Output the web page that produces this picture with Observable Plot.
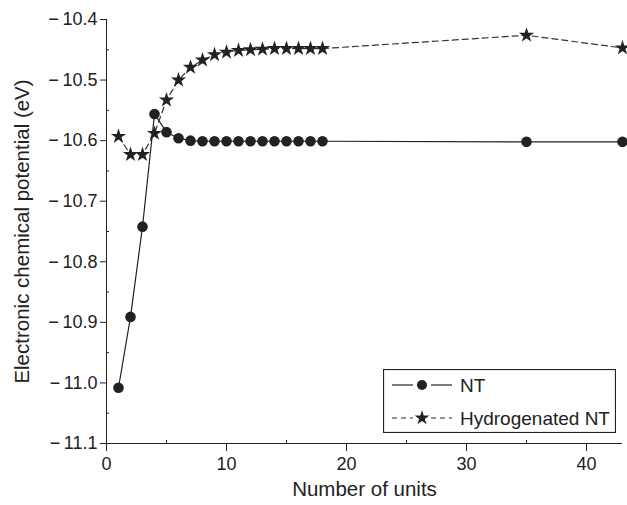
<!DOCTYPE html>
<html><head><meta charset="utf-8">
<script src="https://cdn.jsdelivr.net/npm/d3@7"></script>
<script src="https://cdn.jsdelivr.net/npm/@observablehq/plot@0.6"></script>
<style>
body{margin:0;background:#fff;font-family:"Liberation Sans",Arial,sans-serif}
#wrap{position:relative;width:627px;height:505px}
#legend{position:absolute;left:383px;top:369px}
</style></head><body>
<div id="wrap"><div id="chart"></div><div id="legend"></div></div>
<script>
const units = [1,2,3,4,5,6,7,8,9,10,11,12,13,14,15,16,17,18,35,43];
const nt = [-11.008,-10.891,-10.742,-10.556,-10.586,-10.596,-10.600,-10.601,-10.601,-10.601,-10.601,-10.601,-10.601,-10.601,-10.601,-10.601,-10.601,-10.601,-10.602,-10.602];
const hnt = [-10.593,-10.623,-10.623,-10.588,-10.533,-10.500,-10.479,-10.467,-10.458,-10.454,-10.451,-10.450,-10.449,-10.448,-10.448,-10.448,-10.448,-10.448,-10.426,-10.447];
const seriesNames = ["NT","Hydrogenated NT"];
const xDomain = [0,43];
const yDomain = [-11.1,-10.4];
const xTicks = [0,10,20,30,40];
const xMinor = [5,15,25,35];
const yTicks = [-11.1,-11.0,-10.9,-10.8,-10.7,-10.6,-10.5,-10.4];
const yMinor = [-11.05,-10.95,-10.85,-10.75,-10.65,-10.55,-10.45];
const xLabel = "Number of units";
const yLabel = "Electronic chemical potential (eV)";

const ink = "#222";
const font = "'Liberation Sans', Arial, sans-serif";
const fmt = d => (d < 0 ? "\u2212\u2009" : "") + d3.format(".1f")(Math.abs(d));

const plot = Plot.plot({
  width: 627, height: 505,
  marginLeft: 106, marginRight: 5, marginTop: 19, marginBottom: 62,
  style: {fontFamily: font, fontSize: "18px", color: ink, background: "white", overflow: "visible"},
  x: {domain: xDomain},
  y: {domain: yDomain},
  marks: [
    Plot.axisY({ticks: yTicks, tickSize: 6, tickPadding: 3, tickFormat: fmt, label: null, fontSize: 18}),
    Plot.axisY({ticks: yMinor, tickSize: 3, dx: 3, text: null, label: null}),
    Plot.axisX({ticks: xTicks, tickSize: 8, tickPadding: 6, label: null, fontSize: 18}),
    Plot.axisX({ticks: xMinor, tickSize: 3, dy: -3, text: null, label: null}),
    Plot.ruleX([xDomain[0]], {stroke: ink}),
    Plot.ruleY([yDomain[0]], {stroke: ink}),
    Plot.text([yLabel], {frameAnchor: "left", textAnchor: "middle", dx: -84, rotate: -90, fontSize: 20.5, fill: ink}),
    Plot.text([xLabel], {frameAnchor: "bottom", textAnchor: "middle", dy: 52, fontSize: 20.5, fill: ink}),
    Plot.line(units, {x: units, y: hnt, stroke: "#333", strokeWidth: 1.2, strokeDasharray: "6,4"}),
    Plot.line(units, {x: units, y: nt, stroke: ink, strokeWidth: 1.2}),
    Plot.dot(units, {x: units, y: hnt, symbol: "star", r: 4.8, fill: ink, stroke: "none"}),
    Plot.dot(units, {x: units, y: nt, symbol: "circle", r: 5.3, fill: ink, stroke: "none"})
  ]
});
document.getElementById("chart").appendChild(plot);

// Legend
const lw = 233, lh = 64;
const svg = d3.select("#legend").append("svg").attr("width", lw).attr("height", lh)
  .style("font-family", font).style("font-size", "19px");
svg.append("rect").attr("x", 0.5).attr("y", 0.5).attr("width", lw - 1).attr("height", lh - 1)
  .attr("fill", "white").attr("stroke", ink).attr("stroke-width", 1.2);
const rows = [
  {name: seriesNames[0], y: 16, dash: null, sym: d3.symbolCircle, size: Math.PI * 5 * 5},
  {name: seriesNames[1], y: 49, dash: "5,4", sym: d3.symbolStar, size: Math.PI * 4.6 * 4.6}
];
for (const r of rows) {
  for (const [a, b] of [[9, 30], [48, 69]]) {
    svg.append("line").attr("x1", a).attr("x2", b).attr("y1", r.y).attr("y2", r.y)
      .attr("stroke", ink).attr("stroke-width", 1.2).attr("stroke-dasharray", r.dash);
  }
  svg.append("path").attr("d", d3.symbol(r.sym, r.size)()).attr("transform", `translate(39,${r.y})`).attr("fill", ink);
  svg.append("text").attr("x", 77).attr("y", r.y).attr("dy", "0.35em").attr("fill", ink).text(r.name);
}
</script>
</body></html>
